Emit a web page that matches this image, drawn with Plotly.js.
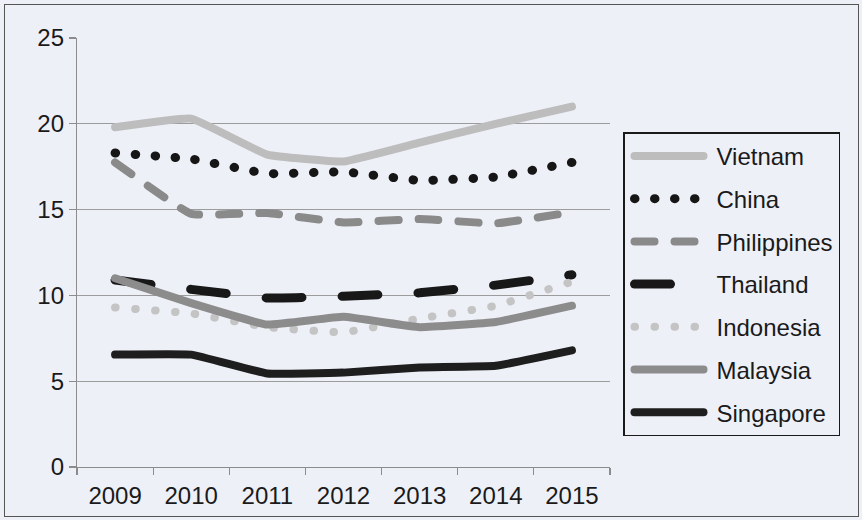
<!DOCTYPE html>
<html>
<head>
<meta charset="utf-8">
<script src="https://cdn.plot.ly/plotly-3.0.1.min.js"></script>
<style>
  html, body { margin: 0; padding: 0; background: #eef0f8; }
  #wrap { position: relative; width: 862px; height: 520px; }
  #chart { width: 862px; height: 520px; }
  #frame {
    position: absolute; left: 4px; top: 4px; width: 853px; height: 511px;
    border: 1.5px solid #555555; pointer-events: none;
  }
  /* rounded ends for the dashes and dots, like the office-style lines */
  .scatterlayer .js-line, .legendlines path { stroke-linecap: round !important; stroke-linejoin: round !important; }
</style>
</head>
<body>
<div id="wrap">
  <div id="chart"></div>
  <div id="frame"></div>
</div>
<script>
// Years on the horizontal axis
const years = ['2009', '2010', '2011', '2012', '2013', '2014', '2015'];

// One series per country
const vietnam     = [19.8, 20.3, 18.2, 17.8, 18.9, 20.0, 21.0];
const china       = [18.3, 17.95, 17.1, 17.2, 16.7, 16.9, 17.75];
const philippines = [17.75, 14.75, 14.8, 14.25, 14.45, 14.2, 14.85];
const thailand    = [10.9, 10.35, 9.85, 9.95, 10.15, 10.6, 11.2];
const indonesia   = [9.3, 8.95, 8.15, 7.85, 8.65, 9.4, 10.8];
const malaysia    = [11.0, 9.55, 8.3, 8.75, 8.15, 8.45, 9.4];
const singapore   = [6.55, 6.55, 5.45, 5.5, 5.8, 5.9, 6.8];

const yTicks = [0, 5, 10, 15, 20, 25];

const FONT = 'Liberation Sans, Arial, Helvetica, sans-serif';
const FS = 24;

function series(name, values, color, width, dash, group) {
  return {
    type: 'scatter', mode: 'lines', name: name,
    x: years, y: values,
    legendgroup: group,
    line: { color: color, width: width, dash: dash, shape: 'spline', smoothing: 0.3 },
    hoverinfo: 'x+y+name'
  };
}

const traces = [
  series('Vietnam',     vietnam,     '#bdbdbd', 8, 'solid',        'g1'),
  series('China',       china,       '#161616', 9, '0.5px,19.5px', 'g2'),
  series('Philippines', philippines, '#8a8a8a', 8, '20px,20px',    'g3'),
  series('Thailand',    thailand,    '#181818', 9, '36px,40px',    'g4'),
  series('Indonesia',   indonesia,   '#c4c4c4', 8, '0.5px,19.5px', 'g5'),
  series('Malaysia',    malaysia,    '#8c8c8c', 8, 'solid',        'g6'),
  series('Singapore',   singapore,   '#1e1e1e', 8, 'solid',        'g7')
];

const layout = {
  width: 862, height: 520,
  margin: { l: 77, r: 252, t: 38, b: 53 },
  paper_bgcolor: '#eef0f8',
  plot_bgcolor: '#eef0f8',
  font: { family: FONT, size: FS, color: '#1a1a1a' },
  showlegend: true,
  xaxis: {
    type: 'category',
    range: [-0.5, 6.5],
    tickson: 'boundaries',
    ticks: 'outside', ticklen: 7, tickcolor: '#8c8c8c', tickwidth: 1.2,
    ticklabelstandoff: 7,
    showline: true, linecolor: '#8c8c8c', linewidth: 1.2,
    showgrid: false, zeroline: false,
    tickfont: { family: FONT, size: FS, color: '#1a1a1a' },
    fixedrange: true
  },
  yaxis: {
    range: [0, 25],
    tickvals: yTicks,
    ticktext: yTicks.map(String),
    ticks: 'outside', ticklen: 7, tickcolor: '#8c8c8c', tickwidth: 1.2,
    showline: true, linecolor: '#8c8c8c', linewidth: 1.2,
    showgrid: true, gridcolor: '#9c9c9c', gridwidth: 1.2,
    zeroline: false,
    tickfont: { family: FONT, size: FS, color: '#1a1a1a' },
    fixedrange: true
  },
  legend: {
    x: 1.0244, xanchor: 'left',
    y: 0.78, yanchor: 'top',
    bgcolor: '#eef0f8',
    bordercolor: '#1a1a1a', borderwidth: 1.5,
    font: { family: FONT, size: FS, color: '#1a1a1a' },
    traceorder: 'grouped',
    tracegroupgap: 8.5,
    itemwidth: 82,
    itemclick: false, itemdoubleclick: false
  }
};

Plotly.newPlot('chart', traces, layout, { displayModeBar: false, staticPlot: true }).then(function (gd) {
  // stretch the legend swatches so the dash patterns are readable
  document.querySelectorAll('.legendlines path').forEach(function (p) {
    p.setAttribute('d', 'M10,0h69');
  });
});
</script>
</body>
</html>
